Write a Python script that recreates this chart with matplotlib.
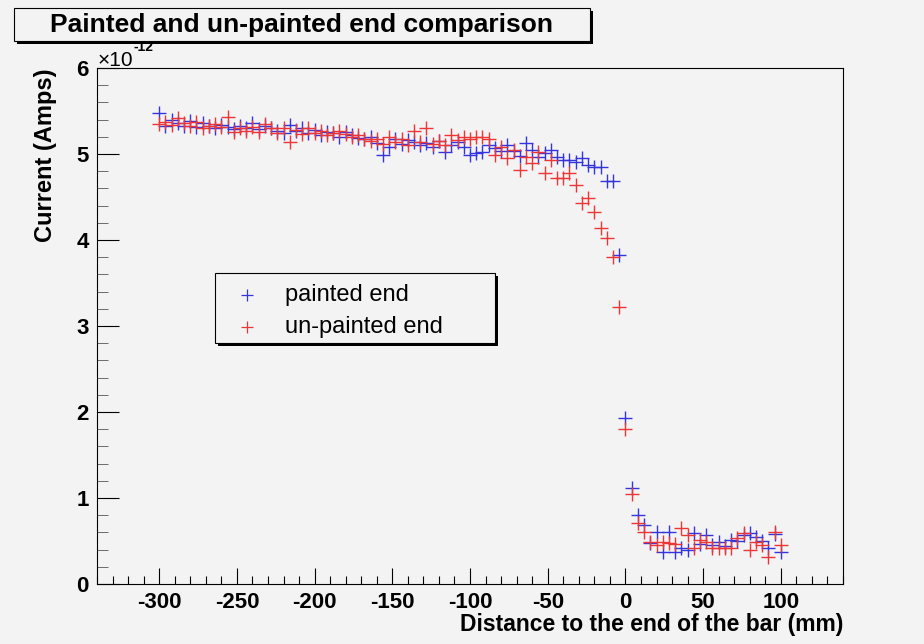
import numpy as np
import matplotlib
matplotlib.use('Agg')
import matplotlib.pyplot as plt
from matplotlib.patches import Rectangle
from matplotlib.lines import Line2D
from matplotlib.ticker import MultipleLocator

plt.rcParams['axes.unicode_minus'] = False

# scan positions along the bar, 4 mm steps (mm)
distance = np.arange(-300, 101, 4)

# photodiode current in units of 1e-12 A
painted = [
    5.48, 5.33, 5.40, 5.36, 5.33, 5.38, 5.31, 5.36, 5.33, 5.30,
    5.34, 5.31, 5.29, 5.33, 5.30, 5.36, 5.29, 5.32, 5.30, 5.27,
    5.24, 5.34, 5.27, 5.30, 5.25, 5.28, 5.22, 5.26, 5.24, 5.20,
    5.26, 5.22, 5.19, 5.17, 5.20, 5.13, 4.99, 5.08, 5.17, 5.12,
    5.16, 5.14, 5.10, 5.13, 5.08, 5.15, 5.02, 5.10, 5.14, 5.08,
    4.99, 5.01, 5.02, 5.10, 5.07, 5.04, 5.10, 5.03, 4.98, 5.13,
    5.05, 4.96, 5.01, 5.05, 4.97, 4.93, 4.93, 4.91, 4.95, 4.87,
    4.85, 4.85, 4.69, 4.69, 3.83, 1.93, 1.12, 0.80, 0.69, 0.48,
    0.60, 0.37, 0.60, 0.37, 0.42, 0.40, 0.59, 0.47, 0.57, 0.45,
    0.49, 0.44, 0.51, 0.50, 0.57, 0.59, 0.55, 0.50, 0.42, 0.58,
    0.37,
]
unpainted = [
    5.35, 5.37, 5.34, 5.42, 5.36, 5.33, 5.37, 5.30, 5.32, 5.35,
    5.31, 5.43, 5.26, 5.30, 5.27, 5.31, 5.26, 5.35, 5.30, 5.25,
    5.30, 5.14, 5.28, 5.23, 5.30, 5.25, 5.27, 5.22, 5.25, 5.27,
    5.23, 5.20, 5.22, 5.18, 5.15, 5.17, 5.12, 5.20, 5.14, 5.17,
    5.10, 5.27, 5.14, 5.30, 5.12, 5.15, 5.10, 5.22, 5.16, 5.20,
    5.17, 5.20, 5.20, 5.18, 4.99, 5.08, 4.95, 5.05, 4.81, 4.97,
    4.89, 5.02, 4.78, 4.93, 4.72, 4.72, 4.78, 4.64, 4.43, 4.49,
    4.33, 4.14, 4.02, 3.80, 3.22, 1.80, 1.05, 0.71, 0.61, 0.49,
    0.45, 0.49, 0.48, 0.47, 0.65, 0.57, 0.42, 0.51, 0.49, 0.42,
    0.42, 0.42, 0.42, 0.53, 0.59, 0.40, 0.49, 0.45, 0.31, 0.60,
    0.45,
]
series_labels = ['painted end', 'un-painted end']

bg = '#f3f3f3'
blue = '#3535dd'
red = '#ee3535'
bold_font = ['Liberation Sans', 'DejaVu Sans']
plain_font = ['Liberation Sans', 'DejaVu Sans']

W, H = 924, 644
fig = plt.figure(figsize=(W / 100, H / 100), dpi=100, facecolor=bg)
ax = fig.add_axes([97 / W, 60 / H, 746 / W, 516 / H], facecolor=bg)

ax.plot(distance, painted, linestyle='none', marker='+', ms=10.5, mew=1.0,
        color=blue)
ax.plot(distance, unpainted, linestyle='none', marker='+', ms=10.5, mew=1.0,
        color=red)

ax.set_xlim(-340, 140)
ax.set_ylim(0, 6)
ax.xaxis.set_major_locator(MultipleLocator(50))
ax.xaxis.set_minor_locator(MultipleLocator(10))
ax.yaxis.set_major_locator(MultipleLocator(1))
ax.yaxis.set_minor_locator(MultipleLocator(0.2))
ax.tick_params(axis='x', which='major', direction='in', length=11.5,
               width=0.8, pad=6)
ax.tick_params(axis='x', which='minor', direction='in', length=5.8,
               width=0.8)
ax.tick_params(axis='y', which='major', direction='in', length=16,
               width=0.8, pad=6)
ax.tick_params(axis='y', which='minor', direction='in', length=8,
               width=0.6, color='#555555')
for lab in ax.get_xticklabels() + ax.get_yticklabels():
    lab.set_family(bold_font)
    lab.set_fontweight('bold')
    lab.set_fontsize(16)
for sp in ax.spines.values():
    sp.set_linewidth(0.8)

ax.set_ylabel('Current (Amps)', family=bold_font, fontweight='bold',
              fontsize=17, loc='top', labelpad=14)
# x title sits right-aligned under the end of the axis
fig.text(843 / W, 1 - 625 / H, 'Distance to the end of the bar (mm)',
         family=bold_font, fontweight='bold', fontsize=16.5, ha='right',
         va='center')

# exponent of the y axis, drawn the ROOT way above the frame
fig.text(98 / W, 1 - 60 / H, '\u00d710', family=plain_font, fontsize=15,
         ha='left', va='center')
fig.text(134 / W, 1 - 47 / H, '-12', family=bold_font, fontweight='bold',
         fontsize=10, ha='left', va='center')


def shadow_box(x0, y0, x1, y1):
    # box in pixel coords (top-left origin) with a dark drop shadow
    w, h = (x1 - x0) / W, (y1 - y0) / H
    fig.add_artist(Rectangle((x0 / W + 3 / W, 1 - y1 / H - 3 / H), w, h,
                             transform=fig.transFigure, facecolor='black',
                             edgecolor='none', zorder=5))
    fig.add_artist(Rectangle((x0 / W, 1 - y1 / H), w, h,
                             transform=fig.transFigure, facecolor=bg,
                             edgecolor='black', linewidth=0.8, zorder=6))


# title box
shadow_box(14, 8, 590, 41)
fig.text(302 / W, 1 - 25 / H, 'Painted and un-painted end comparison',
         family=bold_font, fontweight='bold', fontsize=19, ha='center',
         va='center', zorder=7)

# legend box
shadow_box(215, 273, 495, 343)
for label, col, ypix in zip(series_labels, [blue, red], [295, 327]):
    fig.add_artist(Line2D([247 / W], [1 - ypix / H], marker='+', ms=9,
                          mew=0.9, color=col, linestyle='none',
                          transform=fig.transFigure, zorder=7))
    fig.text(285 / W, 1 - ypix / H, label, family=plain_font, fontsize=17,
             ha='left', va='center', zorder=7)

fig.savefig('out.png', dpi=100, facecolor=bg)
